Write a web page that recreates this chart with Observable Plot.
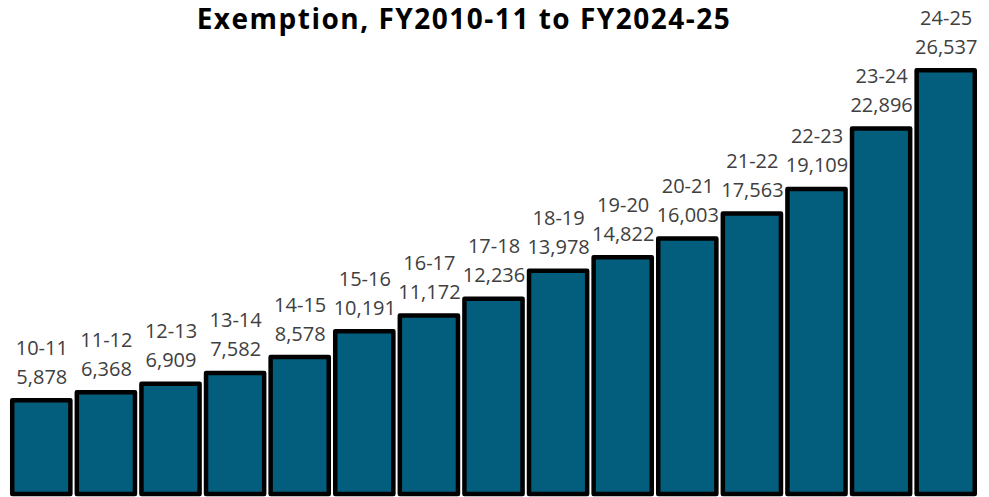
<!DOCTYPE html>
<html>
<head>
<meta charset="utf-8">
<script src="https://cdn.jsdelivr.net/npm/d3@7"></script>
<script src="https://cdn.jsdelivr.net/npm/@observablehq/plot@0.6"></script>
<style>
  html, body { margin: 0; padding: 0; background: #fff; }
  #wrap { position: relative; width: 989px; height: 497px; overflow: hidden; }
  #title {
    position: absolute; left: 464px; top: 1px; transform: translateX(-50%);
    font-family: "Open Sans", sans-serif; font-weight: 700; font-size: 28px;
    line-height: 34px; text-align: center; white-space: nowrap; color: #000;
    letter-spacing: 1.5px;
  }
  #chart { position: absolute; left: 0; top: 0; }
</style>
</head>
<body>
<div id="wrap">
  <div id="chart"></div>
  <div id="title">Exemption, FY2010-11 to FY2024-25</div>
</div>
<script>
const periods = ["10-11","11-12","12-13","13-14","14-15","15-16","16-17","17-18","18-19","19-20","20-21","21-22","22-23","23-24","24-25"];
const values = [5878, 6368, 6909, 7582, 8578, 10191, 11172, 12236, 13978, 14822, 16003, 17563, 19109, 22896, 26537];

const data = periods.map((p, i) => ({period: p, value: values[i], label: p + "\n" + d3.format(",")(values[i])}));

const chart = Plot.plot({
  width: 989,
  height: 497,
  marginLeft: 9,
  marginRight: 11,
  marginTop: 15,
  marginBottom: 3,
  x: {domain: periods, paddingInner: 0.1, paddingOuter: 0.05, round: false, axis: null},
  y: {domain: [0, 30000], axis: null},
  style: {fontFamily: "Open Sans, sans-serif", background: "transparent"},
  marks: [
    Plot.barY(data, {x: "period", y: "value", fill: "#035e7e", stroke: "#000", strokeWidth: 4.5, strokeLinejoin: "round"}),
    Plot.text(data, {x: "period", y: "value", text: "label", lineAnchor: "bottom", dy: -17, lineHeight: 1.45, fontSize: 20, fill: "#404040"})
  ]
});
document.getElementById("chart").appendChild(chart);
</script>
</body>
</html>
